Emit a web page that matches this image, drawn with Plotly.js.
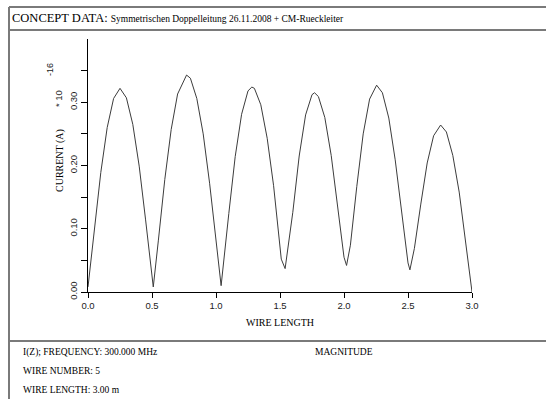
<!DOCTYPE html>
<html>
<head>
<meta charset="utf-8">
<script src="https://cdn.plot.ly/plotly-3.0.1.min.js"></script>
<style>
  html, body { margin: 0; padding: 0; background: #ffffff; }
  #chart { width: 546px; height: 399px; }
</style>
</head>
<body>
<div id="chart"></div>
<script>
// Wire position along the wire (m)
const wireLength = [
  0.00, 0.05, 0.10, 0.15, 0.20, 0.25, 0.30, 0.35, 0.40, 0.45, 0.50, 0.51,
  0.55, 0.60, 0.65, 0.70, 0.77, 0.80, 0.85, 0.90, 0.95, 1.00, 1.04,
  1.10, 1.15, 1.20, 1.25, 1.28, 1.30, 1.35, 1.40, 1.45, 1.51, 1.54,
  1.60, 1.65, 1.70, 1.75, 1.77, 1.80, 1.85, 1.90, 1.95, 2.00, 2.02,
  2.05, 2.10, 2.15, 2.20, 2.255, 2.30, 2.35, 2.40, 2.45, 2.50, 2.515,
  2.55, 2.60, 2.65, 2.70, 2.755, 2.80, 2.85, 2.90, 2.95, 3.00
];
// Current magnitude (A * 10^-16)
const currentMag = [
  0.008, 0.100, 0.189, 0.260, 0.306, 0.322, 0.307, 0.265, 0.199, 0.114, 0.020, 0.008,
  0.082, 0.178, 0.257, 0.313, 0.343, 0.338, 0.306, 0.250, 0.172, 0.079, 0.010,
  0.124, 0.214, 0.281, 0.318, 0.324, 0.322, 0.296, 0.243, 0.168, 0.052, 0.037,
  0.126, 0.215, 0.280, 0.312, 0.315, 0.309, 0.276, 0.216, 0.134, 0.055, 0.042,
  0.074, 0.167, 0.250, 0.305, 0.327, 0.315, 0.275, 0.209, 0.125, 0.046, 0.035,
  0.069, 0.139, 0.204, 0.247, 0.264, 0.253, 0.216, 0.158, 0.083, 0.000
];
const xTickVals = [0, 0.5, 1.0, 1.5, 2.0, 2.5, 3.0];
const xTickText = ["0.0", "0.5", "1.0", "1.5", "2.0", "2.5", "3.0"];
const yTickVals = [0, 0.05, 0.10, 0.15, 0.20, 0.25, 0.30, 0.35];
const yTickText = ["0.00", "", "0.10", "", "0.20", "", "0.30", ""];

const titleMain = "CONCEPT DATA:";
const titleSub = "Symmetrischen Doppelleitung 26.11.2008 + CM-Rueckleiter";
const infoLines = ["I(Z); FREQUENCY: 300.000 MHz", "WIRE NUMBER: 5", "WIRE LENGTH: 3.00 m"];
const infoRight = "MAGNITUDE";

// pixel -> paper helpers (plot area 88..472 x, 39..292 y)
const L = 88, R = 472, T = 39, B = 292;
const px = v => (v - L) / (R - L);
const py = v => (B - v) / (B - T);

const serif = "Liberation Serif, Times New Roman, serif";
const sans = "Liberation Sans, Arial, sans-serif";
const borderColor = "#7a7a7a";

const trace = {
  x: wireLength,
  y: currentMag,
  type: "scatter",
  mode: "lines",
  line: { color: "#3c3c3c", width: 1 },
  hoverinfo: "skip"
};

const ann = (x, y, text, opts) => Object.assign({
  xref: "paper", yref: "paper", x: px(x), y: py(y), text: text,
  showarrow: false, xanchor: "left", yanchor: "middle",
  font: { family: serif, size: 9.5, color: "#000" }
}, opts || {});

const layout = {
  width: 546, height: 399,
  margin: { l: L, r: 546 - R, t: T, b: 399 - B, pad: 0 },
  paper_bgcolor: "#ffffff",
  plot_bgcolor: "#ffffff",
  showlegend: false,
  xaxis: {
    range: [0, 3],
    showgrid: false, zeroline: false,
    showline: true, linecolor: "#000", linewidth: 1,
    ticks: "outside", ticklen: 5, tickcolor: "#000", tickwidth: 1,
    tickmode: "array", tickvals: xTickVals, ticktext: xTickText,
    tickfont: { family: sans, size: 9.5, color: "#222" }
  },
  yaxis: {
    range: [0, 0.4],
    showgrid: false, zeroline: false,
    showline: true, linecolor: "#000", linewidth: 1,
    ticks: "outside", ticklen: 6, tickcolor: "#000", tickwidth: 1,
    tickmode: "array", tickvals: yTickVals, ticktext: yTickText,
    tickangle: -90,
    tickfont: { family: sans, size: 9.5, color: "#222" }
  },
  shapes: [
    { type: "line", xref: "paper", yref: "paper", x0: px(9), x1: px(546), y0: py(7), y1: py(7), line: { color: borderColor, width: 2 } },
    { type: "line", xref: "paper", yref: "paper", x0: px(9), x1: px(546), y0: py(30), y1: py(30), line: { color: borderColor, width: 2 } },
    { type: "line", xref: "paper", yref: "paper", x0: px(9), x1: px(546), y0: py(341), y1: py(341), line: { color: borderColor, width: 2 } },
    { type: "line", xref: "paper", yref: "paper", x0: px(9), x1: px(9), y0: py(7), y1: py(399), line: { color: borderColor, width: 2 } }
  ],
  annotations: [
    ann(10, 18, titleMain + " <span style='font-size:9.5px'>" + titleSub + "</span>", { font: { family: serif, size: 12.5, color: "#000" } }),
    ann(280, 322, "WIRE LENGTH", { xanchor: "center", font: { family: serif, size: 10, color: "#000" } }),
    ann(60, 161, "CURRENT (A)", { xanchor: "center", textangle: -90, font: { family: serif, size: 10, color: "#000" } }),
    ann(58, 99, "* 10", { xanchor: "center", textangle: -90, font: { family: sans, size: 9.5, color: "#222" } }),
    ann(50, 70, "-16", { xanchor: "center", textangle: -90, font: { family: sans, size: 9, color: "#222" } }),
    ann(21, 352, infoLines[0]),
    ann(21, 371, infoLines[1]),
    ann(21, 390, infoLines[2]),
    ann(313, 352, infoRight)
  ]
};

Plotly.newPlot("chart", [trace], layout, { staticPlot: true, displayModeBar: false });
</script>
</body>
</html>
